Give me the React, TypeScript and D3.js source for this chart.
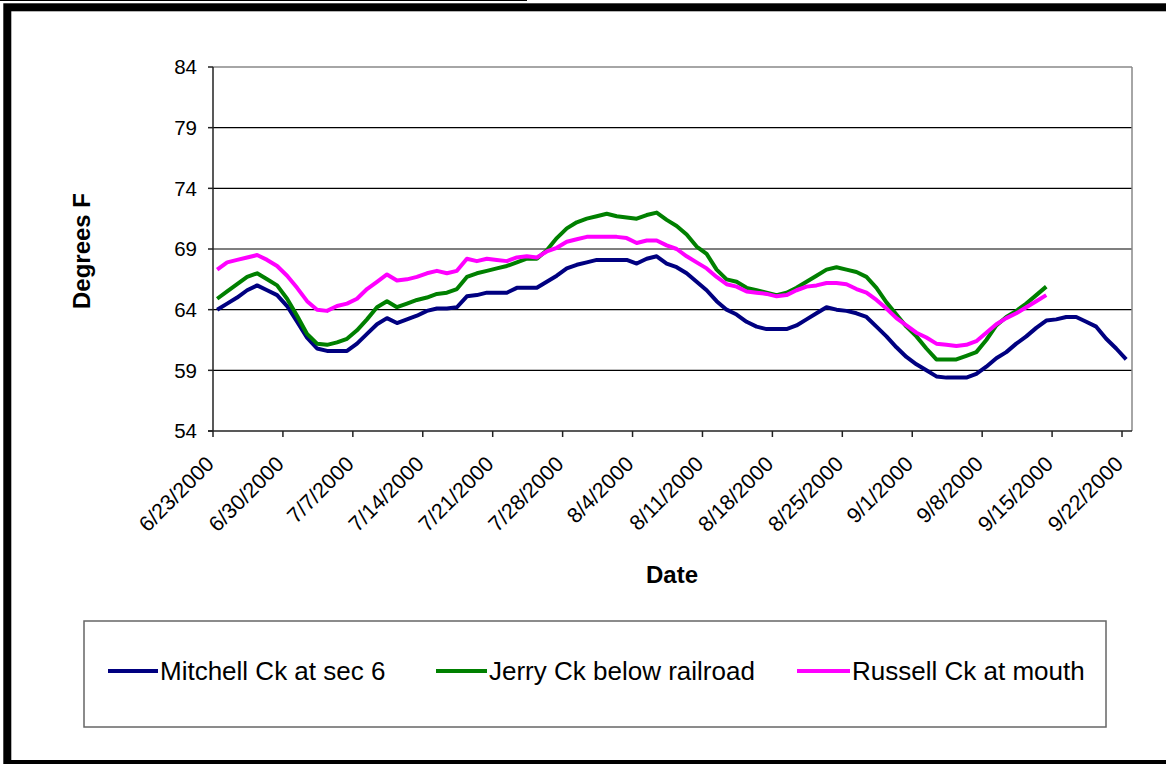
import React from "react";
import * as d3 from "d3";

// ---------- data ----------
const START_DATE = Date.UTC(2000, 5, 23); // 6/23/2000
const READING_HOUR = 10; // daily reading plotted at 10:00
const DAY_MS = 24 * 3600 * 1000;

const mitchell = [
  64.0, 64.5, 65.0, 65.6, 66.0, 65.6, 65.2, 64.3, 63.0, 61.7,
  60.8, 60.6, 60.6, 60.6, 61.2, 62.0, 62.8, 63.3, 62.9, 63.2,
  63.5, 63.9, 64.1, 64.1, 64.2, 65.1, 65.2, 65.4, 65.4, 65.4,
  65.8, 65.8, 65.8, 66.3, 66.8, 67.4, 67.7, 67.9, 68.1, 68.1,
  68.1, 68.1, 67.8, 68.2, 68.4, 67.8, 67.5, 67.0, 66.3, 65.6,
  64.7, 64.0, 63.6, 63.0, 62.6, 62.4, 62.4, 62.4, 62.7, 63.2,
  63.7, 64.2, 64.0, 63.9, 63.7, 63.4, 62.6, 61.8, 60.9, 60.1,
  59.5, 59.0, 58.5, 58.4, 58.4, 58.4, 58.7, 59.3, 60.0, 60.5,
  61.2, 61.8, 62.5, 63.1, 63.2, 63.4, 63.4, 63.0, 62.6, 61.6,
  60.8, 59.9,
];

const jerry = [
  64.9, 65.5, 66.1, 66.7, 67.0, 66.5, 66.0, 64.9, 63.5, 62.0,
  61.2, 61.1, 61.3, 61.6, 62.3, 63.2, 64.2, 64.7, 64.2, 64.5,
  64.8, 65.0, 65.3, 65.4, 65.7, 66.7, 67.0, 67.2, 67.4, 67.6,
  67.9, 68.2, 68.2, 68.9, 69.9, 70.7, 71.2, 71.5, 71.7, 71.9,
  71.7, 71.6, 71.5, 71.8, 72.0, 71.4, 70.9, 70.2, 69.2, 68.6,
  67.3, 66.5, 66.3, 65.8, 65.6, 65.4, 65.2, 65.4, 65.8, 66.3,
  66.8, 67.3, 67.5, 67.3, 67.1, 66.7, 65.8, 64.6, 63.6, 62.6,
  61.8, 60.8, 59.9, 59.9, 59.9, 60.2, 60.5, 61.5, 62.7, 63.4,
  63.9, 64.5, 65.2, 65.9,
];

const russell = [
  67.3, 67.9, 68.1, 68.3, 68.5, 68.1, 67.6, 66.8, 65.8, 64.7,
  64.0, 63.9, 64.3, 64.5, 64.9, 65.7, 66.3, 66.9, 66.4, 66.5,
  66.7, 67.0, 67.2, 67.0, 67.2, 68.2, 68.0, 68.2, 68.1, 68.0,
  68.3, 68.4, 68.3, 68.8, 69.1, 69.6, 69.8, 70.0, 70.0, 70.0,
  70.0, 69.9, 69.5, 69.7, 69.7, 69.3, 69.0, 68.4, 67.9, 67.4,
  66.7, 66.1, 65.9, 65.5, 65.4, 65.3, 65.1, 65.2, 65.6, 65.9,
  66.0, 66.2, 66.2, 66.1, 65.7, 65.4, 64.8, 64.1, 63.3, 62.7,
  62.1, 61.7, 61.2, 61.1, 61.0, 61.1, 61.4, 62.1, 62.8, 63.3,
  63.7, 64.2, 64.7, 65.2,
];

const seriesNames = ["Mitchell Ck at sec 6", "Jerry Ck below railroad", "Russell Ck at mouth"];
const seriesColors = ["#000080", "#008000", "#FF00FF"];
const seriesValues = [mitchell, jerry, russell];

const yTicks = [54, 59, 64, 69, 74, 79, 84];
const xTickLabels = [
  "6/23/2000", "6/30/2000", "7/7/2000", "7/14/2000", "7/21/2000", "7/28/2000", "8/4/2000",
  "8/11/2000", "8/18/2000", "8/25/2000", "9/1/2000", "9/8/2000", "9/15/2000", "9/22/2000",
];

// ---------- layout ----------
const W = 1166;
const H = 764;
const PL = 213, PT = 67, PR = 1132, PB = 431;
const FONT = "'Liberation Sans', Arial, Helvetica, sans-serif";

function parseLabel(s: string) {
  const [m, d, y] = s.split("/").map(Number);
  return new Date(Date.UTC(y, m - 1, d));
}

export default function App() {
  const x = d3
    .scaleUtc()
    .domain([new Date(START_DATE), new Date(Date.UTC(2000, 8, 23))])
    .range([PL, PR]);
  const y = d3.scaleLinear().domain([54, 84]).range([PB, PT]);

  const line = d3
    .line<number>()
    .x((_, i) => x(new Date(START_DATE + i * DAY_MS + READING_HOUR * 3600 * 1000)))
    .y((v) => y(v));

  const legendItems = [
    { lx: 108, tx: 160 },
    { lx: 436, tx: 489 },
    { lx: 797, tx: 852 },
  ];
  const legendY = 671;

  return (
    <svg
      width={W}
      height={H}
      style={{ position: "absolute", left: 0, top: 0, background: "#fff" }}
      fontFamily={FONT}
    >
      <rect x={0} y={0} width={W} height={H} fill="#fff" />
      {/* outer frame */}
      <line x1={0} x2={527} y1={0.5} y2={0.5} stroke="#000" strokeWidth={1} />
      <rect x={7.3} y={7.3} width={W + 10} height={756.7} fill="none" stroke="#000" strokeWidth={8} />

      {/* gridlines */}
      {yTicks.slice(1, -1).map((t) => (
        <line key={t} x1={PL} x2={PR} y1={y(t)} y2={y(t)} stroke="#000" strokeWidth={1.2} />
      ))}
      {/* plot border (top/right) */}
      <line x1={PL} x2={PR} y1={PT} y2={PT} stroke="#888" strokeWidth={1.5} />
      <line x1={PR} x2={PR} y1={PT} y2={PB} stroke="#888" strokeWidth={1.5} />

      {/* series */}
      {seriesValues.map((vals, i) => (
        <path
          key={i}
          d={line(vals) || ""}
          fill="none"
          stroke={seriesColors[i]}
          strokeWidth={4}
          strokeLinejoin="round"
        />
      ))}

      {/* axes */}
      <line x1={PL} x2={PL} y1={PT} y2={PB} stroke="#222" strokeWidth={1.5} />
      <line x1={PL - 5} x2={PR} y1={PB} y2={PB} stroke="#222" strokeWidth={1.5} />
      {yTicks.map((t) => (
        <g key={t}>
          <line x1={PL - 5} x2={PL} y1={y(t)} y2={y(t)} stroke="#222" strokeWidth={1.5} />
          <text x={PL - 16} y={y(t)} dy="0.35em" textAnchor="end" fontSize={20.5} fill="#000">
            {t}
          </text>
        </g>
      ))}
      {xTickLabels.map((s) => {
        const tx = x(parseLabel(s));
        return (
          <g key={s}>
            <line x1={tx} x2={tx} y1={PB} y2={PB + 6} stroke="#222" strokeWidth={1.5} />
            <text
              transform={`translate(${tx - 3},${PB + 29}) rotate(-45)`}
              textAnchor="end"
              dy="0.35em"
              fontSize={21.5}
              fill="#000"
            >
              {s}
            </text>
          </g>
        );
      })}

      {/* axis titles */}
      <text
        transform={`translate(90,${(PT + PB) / 2 + 2}) rotate(-90)`}
        textAnchor="middle"
        fontWeight="bold"
        fontSize={24}
      >
        Degrees F
      </text>
      <text x={672} y={583} textAnchor="middle" fontWeight="bold" fontSize={24}>
        Date
      </text>

      {/* legend */}
      <rect x={84} y={621} width={1022} height={106} fill="#fff" stroke="#666" strokeWidth={1.5} />
      {seriesNames.map((name, i) => (
        <g key={name}>
          <line
            x1={legendItems[i].lx}
            x2={legendItems[i].tx - 2}
            y1={legendY}
            y2={legendY}
            stroke={seriesColors[i]}
            strokeWidth={4}
          />
          <text x={legendItems[i].tx} y={legendY} dy="0.35em" fontSize={26} fill="#000">
            {name}
          </text>
        </g>
      ))}
    </svg>
  );
}
